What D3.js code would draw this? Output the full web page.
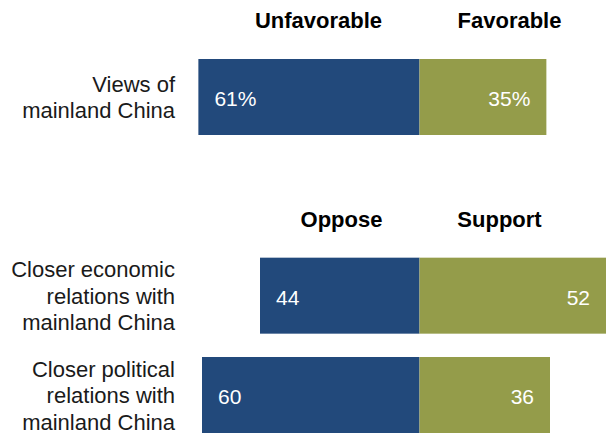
<!DOCTYPE html>
<html>
<head>
<meta charset="utf-8">
<script src="https://cdn.jsdelivr.net/npm/d3@7"></script>
<style>
  body { margin: 0; background: #fff; }
  svg { display: block; }
</style>
</head>
<body>
<div id="chart"></div>
<script>
// Data
const rows = ["views", "gap", "economic", "political"];
const categories = ["views", "economic", "political"];
const categoryLines = [
    ["Views of", "mainland China"],
    ["Closer economic", "relations with", "mainland China"],
    ["Closer political", "relations with", "mainland China"]
];
const negValues = [61, 44, 60];
const posValues = [35, 52, 36];
const negLabels = ["61%", "44", "60"];
const posLabels = ["35%", "52", "36"];

// Column headers, one pair per group
const headerRows = ["views", "economic"];
const negHeaders = ["Unfavorable", "Oppose"];
const posHeaders = ["Favorable", "Support"];

const width = 606, height = 439;

const svg = d3.select("#chart")
    .append("svg")
    .attr("width", width)
    .attr("height", height);

// Diverging scale centred on zero
const x = d3.scaleLinear().domain([-100, 100]).range([57, 782]);
const y = d3.scaleBand().domain(rows).range([59, 433]).paddingInner(0.235);

const blue = "#22497b", green = "#949c4a";

const data = categories.map((c, i) => ({
    key: c,
    lines: categoryLines[i],
    neg: negValues[i],
    pos: posValues[i],
    negLabel: negLabels[i],
    posLabel: posLabels[i]
}));

const g = svg.append("g");

// Bars
g.selectAll(".neg")
    .data(data)
    .enter()
    .append("rect")
    .attr("class", "neg")
    .attr("x", d => x(-d.neg))
    .attr("y", d => y(d.key))
    .attr("width", d => x(0) - x(-d.neg))
    .attr("height", y.bandwidth())
    .attr("fill", blue);

g.selectAll(".pos")
    .data(data)
    .enter()
    .append("rect")
    .attr("class", "pos")
    .attr("x", x(0))
    .attr("y", d => y(d.key))
    .attr("width", d => x(d.pos) - x(0))
    .attr("height", y.bandwidth())
    .attr("fill", green);

// Value labels inside bars
g.selectAll(".neg-label")
    .data(data)
    .enter()
    .append("text")
    .attr("class", "neg-label")
    .attr("x", d => x(-d.neg) + 16)
    .attr("y", d => y(d.key) + y.bandwidth() / 2 + 9)
    .attr("fill", "#fff")
    .style("font-family", "'Liberation Sans', Arial, sans-serif")
    .style("font-size", "21px")
    .text(d => d.negLabel);

g.selectAll(".pos-label")
    .data(data)
    .enter()
    .append("text")
    .attr("class", "pos-label")
    .attr("x", d => Math.min(x(d.pos), width) - 16)
    .attr("y", d => y(d.key) + y.bandwidth() / 2 + 9)
    .attr("text-anchor", "end")
    .attr("fill", "#fff")
    .style("font-family", "'Liberation Sans', Arial, sans-serif")
    .style("font-size", "21px")
    .text(d => d.posLabel);

// Category labels, right aligned to the left of the bars
const lineH = 26.5;
const cat = g.selectAll(".cat")
    .data(data)
    .enter()
    .append("text")
    .attr("class", "cat")
    .attr("text-anchor", "end")
    .attr("fill", "#1a1a1a")
    .style("font-family", "'Liberation Sans', Arial, sans-serif")
    .style("font-size", "22px");

cat.selectAll("tspan")
    .data(d => d.lines.map((t, i) => ({t, i, n: d.lines.length, key: d.key})))
    .enter()
    .append("tspan")
    .attr("x", 175)
    .attr("y", d => y(d.key) + y.bandwidth() / 2 + (d.i - (d.n - 1) / 2) * lineH + 8)
    .text(d => d.t);

// Column headers
const headers = headerRows.map((r, i) => ({row: r, neg: negHeaders[i], pos: posHeaders[i]}));
const negOffset = [101, 78], posOffset = [90, 80];

headers.forEach((h, i) => {
    const top = y(h.row) - 31;
    g.append("text")
        .attr("x", x(0) - negOffset[i])
        .attr("y", top)
        .attr("text-anchor", "middle")
        .attr("fill", "#000")
        .style("font-family", "'Liberation Sans', Arial, sans-serif")
        .style("font-weight", "bold")
        .style("font-size", "22px")
        .text(h.neg);
    g.append("text")
        .attr("x", x(0) + posOffset[i])
        .attr("y", top)
        .attr("text-anchor", "middle")
        .attr("fill", "#000")
        .style("font-family", "'Liberation Sans', Arial, sans-serif")
        .style("font-weight", "bold")
        .style("font-size", "22px")
        .text(h.pos);
});
</script>
</body>
</html>
